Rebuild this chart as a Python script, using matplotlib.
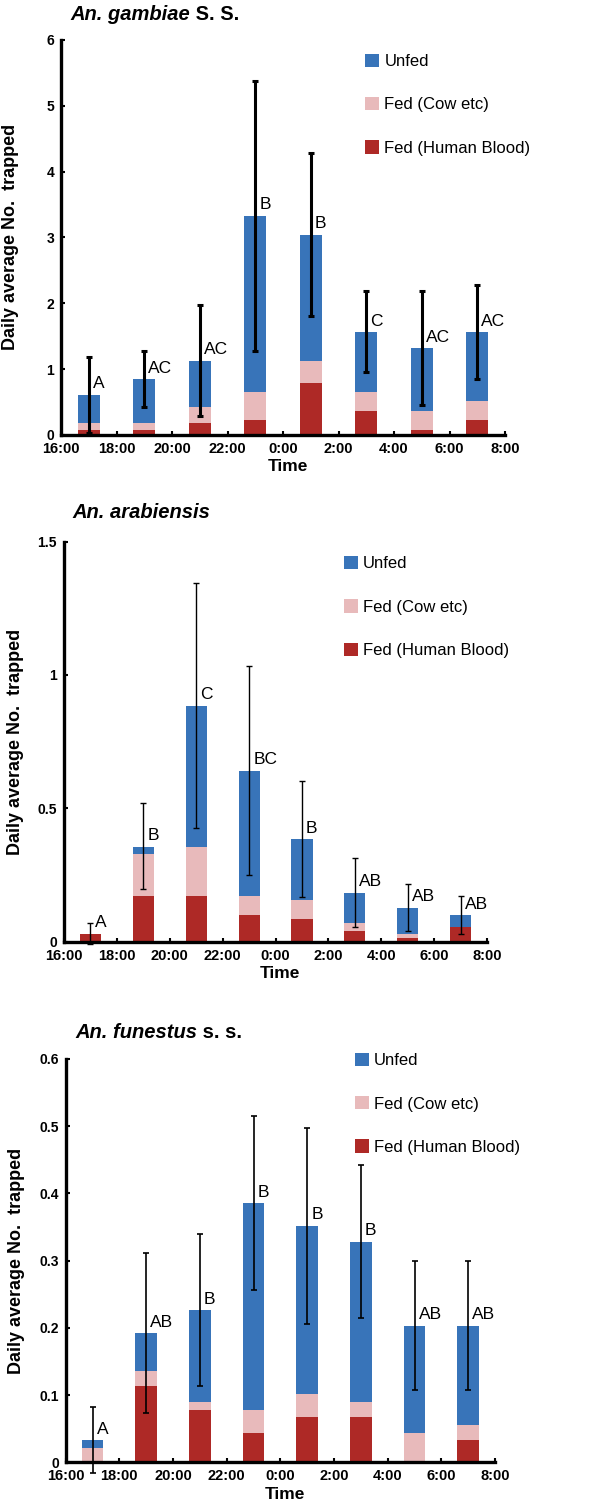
import matplotlib
matplotlib.use("Agg")
import numpy as np
import matplotlib.pyplot as plt

plt.rcParams['font.family'] = ['Liberation Sans', 'DejaVu Sans']

# bins are two-hour blocks, centred on the odd hour (17 = 17:00, 25 = 1:00 next day)
hours = [17, 19, 21, 23, 25, 27, 29, 31]
tick_hours = [16, 18, 20, 22, 24, 26, 28, 30, 32]
tick_labels = ["16:00", "18:00", "20:00", "22:00", "0:00", "2:00", "4:00", "6:00", "8:00"]
legend_labels = ["Unfed", "Fed (Cow etc)", "Fed (Human Blood)"]

# An. gambiae s.s.
gam_human = [0.08, 0.08, 0.18, 0.22, 0.79, 0.36, 0.08, 0.22]
gam_cow = [0.10, 0.10, 0.24, 0.43, 0.34, 0.29, 0.28, 0.29]
gam_unfed = [0.43, 0.67, 0.71, 2.68, 1.91, 0.91, 0.96, 1.05]
gam_err_low = [0.03, 0.43, 0.29, 1.28, 1.81, 0.95, 0.45, 0.85]
gam_err_high = [1.19, 1.27, 1.97, 5.38, 4.28, 2.18, 2.19, 2.27]
gam_letters = ["A", "AC", "AC", "B", "B", "C", "AC", "AC"]

# An. arabiensis
ara_human = [0.029, 0.171, 0.171, 0.100, 0.084, 0.041, 0.015, 0.056]
ara_cow = [0.0, 0.157, 0.185, 0.071, 0.072, 0.028, 0.014, 0.0]
ara_unfed = [0.0, 0.028, 0.528, 0.470, 0.229, 0.115, 0.098, 0.043]
ara_err_low = [-0.01, 0.196, 0.425, 0.25, 0.169, 0.056, 0.04, 0.029]
ara_err_high = [0.069, 0.519, 1.344, 1.035, 0.602, 0.315, 0.216, 0.171]
ara_letters = ["A", "B", "C", "BC", "B", "AB", "AB", "AB"]

# An. funestus s.s.
fun_human = [0.0, 0.113, 0.078, 0.044, 0.067, 0.067, 0.0, 0.033]
fun_cow = [0.022, 0.023, 0.011, 0.034, 0.034, 0.022, 0.044, 0.022]
fun_unfed = [0.011, 0.056, 0.137, 0.307, 0.251, 0.239, 0.159, 0.148]
fun_err_low = [-0.016, 0.074, 0.113, 0.257, 0.206, 0.215, 0.108, 0.108]
fun_err_high = [0.083, 0.311, 0.340, 0.515, 0.498, 0.442, 0.300, 0.300]
fun_letters = ["A", "AB", "B", "B", "B", "B", "AB", "AB"]

BLUE = "#3874b9"
PINK = "#e8babb"
RED = "#ae2926"


def draw_panel(ax, human, cow, unfed, err_low, err_high, letters, ymax, yticks,
               err_lw, cap, legend_pos, title_main, title_rest, title_xy):
    human = np.array(human)
    cow = np.array(cow)
    unfed = np.array(unfed)
    total = human + cow + unfed

    b_red = ax.bar(hours, human, width=0.8, color=RED, linewidth=0, zorder=2)
    b_pink = ax.bar(hours, cow, width=0.8, bottom=human, color=PINK, linewidth=0, zorder=2)
    b_blue = ax.bar(hours, unfed, width=0.8, bottom=human + cow, color=BLUE, linewidth=0, zorder=2)

    yerr = [total - np.array(err_low), np.array(err_high) - total]
    ax.errorbar(hours, total, yerr=yerr, fmt="none", ecolor="black", elinewidth=err_lw,
                capsize=cap, capthick=err_lw, zorder=3, clip_on=False)

    for h, t, lab in zip(hours, total, letters):
        ax.annotate(lab, xy=(h, t), xytext=(3, 2.5), textcoords="offset points",
                    ha="left", va="bottom", fontsize=12.5, zorder=4)

    ax.set_xlim(16, 32)
    ax.set_ylim(0, ymax)
    ax.set_xticks(tick_hours)
    ax.set_xticklabels(tick_labels, fontsize=10.5, fontweight="bold")
    ax.set_yticks(yticks)
    ax.set_yticklabels(["{:g}".format(v) for v in yticks], fontsize=10, fontweight="bold")
    ax.tick_params(direction="in", length=3, width=1.5, pad=5)
    for s in ["top", "right"]:
        ax.spines[s].set_visible(False)
    for s in ["left", "bottom"]:
        ax.spines[s].set_linewidth(2.4)

    ax.set_xlabel("Time", fontsize=12.5, fontweight="bold")
    ax.xaxis.set_label_coords(0.51, -0.06)
    ax.set_ylabel("Daily average No.  trapped", fontsize=13, fontweight="bold")
    ax.yaxis.set_label_coords(-0.095, 0.5)

    ax.legend([b_blue, b_pink, b_red], legend_labels, loc="upper left",
              bbox_to_anchor=legend_pos, frameon=False, fontsize=12,
              handlelength=0.85, handleheight=0.85, handletextpad=0.3,
              labelspacing=1.67, borderpad=0, borderaxespad=0)

    fig = ax.figure
    t1 = fig.text(title_xy[0], title_xy[1], title_main, fontsize=14.5,
                  fontweight="bold", style="italic", va="center", ha="left")
    ax.annotate(title_rest, xy=(1, 0), xycoords=t1, va="bottom", ha="left",
                fontsize=14.5, fontweight="bold", annotation_clip=False)


fig = plt.figure(figsize=(6, 15.05), dpi=100)
ax1 = fig.add_axes([0.1017, 0.7110, 0.74, 0.2625])
ax2 = fig.add_axes([0.1067, 0.3743, 0.705, 0.2658])
ax3 = fig.add_axes([0.1095, 0.02837, 0.7155, 0.268])

draw_panel(ax1, gam_human, gam_cow, gam_unfed, gam_err_low, gam_err_high, gam_letters,
           6, [0, 1, 2, 3, 4, 5, 6], 2.2, 2.5, (0.685, 0.965),
           "An. gambiae", " S. S.", (70 / 600, 1 - 14 / 1505))
draw_panel(ax2, ara_human, ara_cow, ara_unfed, ara_err_low, ara_err_high, ara_letters,
           1.5, [0, 0.5, 1, 1.5], 1.0, 2.5, (0.662, 0.964),
           "An. arabiensis", "", (72 / 600, 1 - 512 / 1505))
draw_panel(ax3, fun_human, fun_cow, fun_unfed, fun_err_low, fun_err_high, fun_letters,
           0.6, [0, 0.1, 0.2, 0.3, 0.4, 0.5, 0.6], 1.2, 2.5, (0.674, 1.015),
           "An. funestus", " s. s.", (75 / 600, 1 - 1033 / 1505))

fig.savefig("out.png", dpi=100)
